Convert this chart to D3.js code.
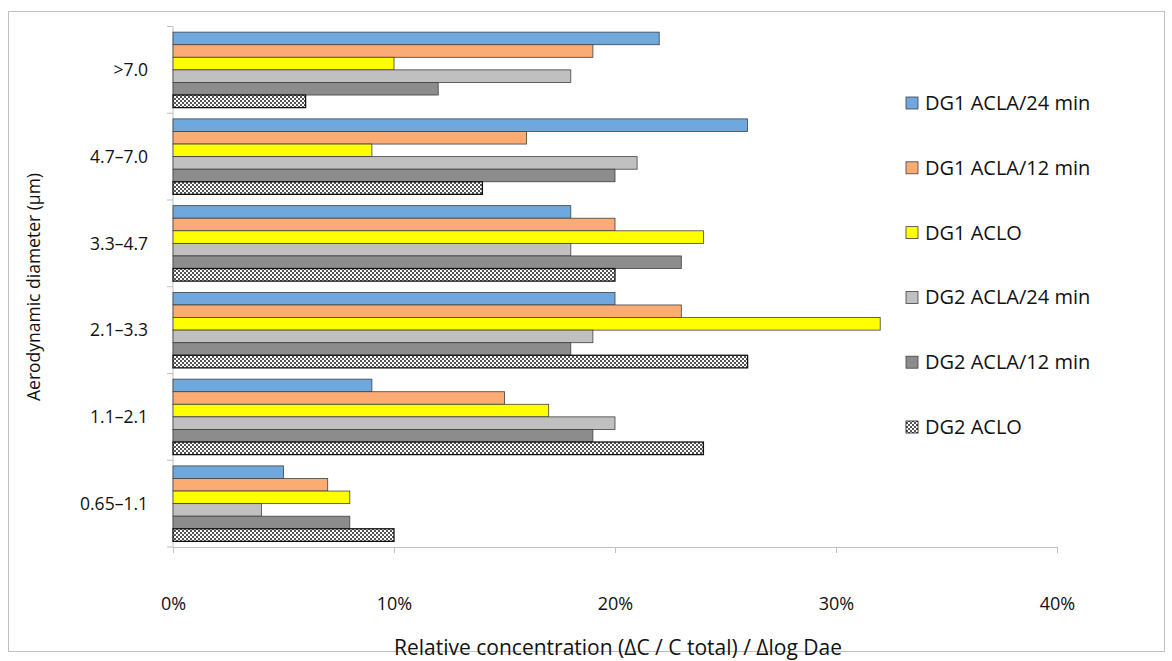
<!DOCTYPE html>
<html><head><meta charset="utf-8">
<script src="https://cdn.jsdelivr.net/npm/d3@7"></script>
<style>body{margin:0;background:#fff}svg{display:block}text{font-family:"Open Sans",Lato,sans-serif;fill:#111}</style>
</head><body>
<script>
const categories = [">7.0","4.7–7.0","3.3–4.7","2.1–3.3","1.1–2.1","0.65–1.1"];
const seriesNames = ["DG1 ACLA/24 min","DG1 ACLA/12 min","DG1 ACLO","DG2 ACLA/24 min","DG2 ACLA/12 min","DG2 ACLO"];
const s1 = [22,26,18,20,9,5];
const s2 = [19,16,20,23,15,7];
const s3 = [10,9,24,32,17,8];
const s4 = [18,21,18,19,20,4];
const s5 = [12,20,23,18,19,8];
const s6 = [6,14,20,26,24,10];
const seriesValues = [s1,s2,s3,s4,s5,s6];
const xTicks = [0,10,20,30,40];
const fills = ["#6fa8dc","#fbab74","#ffff00","#c0c0c0","#8c8c8c","url(#checker)"];

(function(){
const W=1172,H=661;
const svg=d3.select("body").append("svg").attr("width",W).attr("height",H);
const defs=svg.append("defs");
const pat=defs.append("pattern").attr("id","checker").attr("width",4).attr("height",4).attr("patternUnits","userSpaceOnUse");
pat.append("rect").attr("width",4).attr("height",4).attr("fill","#fff");
pat.append("rect").attr("width",2).attr("height",2).attr("fill","#555");
pat.append("rect").attr("x",2).attr("y",2).attr("width",2).attr("height",2).attr("fill","#555");

svg.append("rect").attr("x",8.5).attr("y",11.5).attr("width",1156).attr("height",640).attr("fill","#fff").attr("stroke","#bfbfbf");

const pL=173,pR=1057,pT=26.5,pB=547;
const x=d3.scaleLinear().domain([0,40]).range([pL,pR]);
const y0=d3.scaleBand().domain(categories).range([pT,pB]).paddingInner(0.13).paddingOuter(0.065);
const y1=d3.scaleBand().domain(d3.range(6)).range([0,y0.bandwidth()]);

const xAxis=svg.append("g").attr("transform",`translate(0,${pB})`)
  .call(d3.axisBottom(x).tickValues(xTicks).tickFormat(d=>d+"%").tickSize(6).tickPadding(44));
xAxis.select(".domain").attr("stroke","#bfbfbf");
xAxis.selectAll(".tick line").attr("stroke","#bfbfbf");
xAxis.selectAll("text").style("font-size","18px").attr("fill","#111");

const yb=d3.scaleLinear().domain([0,6]).range([pT,pB]);
const yAxisG=svg.append("g");
yAxisG.append("line").attr("x1",pL).attr("x2",pL).attr("y1",pT).attr("y2",pB).attr("stroke","#bfbfbf");
yAxisG.selectAll("line.t").data(d3.range(7)).join("line").attr("class","t")
  .attr("x1",pL-6).attr("x2",pL).attr("y1",d=>yb(d)).attr("y2",d=>yb(d)).attr("stroke","#bfbfbf");
yAxisG.selectAll("text").data(categories).join("text")
  .attr("x",148).attr("y",d=>y0(d)+y0.bandwidth()/2).attr("dy","0.35em").attr("text-anchor","end")
  .style("font-size","17.5px").text(d=>d);

categories.forEach((c,ci)=>{
  seriesValues.forEach((vals,si)=>{
    svg.append("rect")
      .attr("x",x(0)).attr("y",y0(c)+y1(si)).attr("width",x(vals[ci])-x(0)).attr("height",y1.bandwidth())
      .attr("fill",fills[si]).attr("stroke",si===5?"#111":"#404040").attr("stroke-width",si===5?1.3:0.8);
  });
});

const lg=svg.append("g");
seriesNames.forEach((n,i)=>{
  const ly=103+i*64.8;
  lg.append("rect").attr("x",906).attr("y",ly-6).attr("width",12).attr("height",12)
    .attr("fill",fills[i]).attr("stroke",i===5?"#111":"#404040").attr("stroke-width",0.8);
  lg.append("text").attr("x",925).attr("y",ly).attr("dy","0.35em").style("font-size","20px").text(n);
});

svg.append("text").attr("x",618).attr("y",655).attr("text-anchor","middle").style("font-size","21px")
  .text("Relative concentration (ΔC / C total) / Δlog Dae");
svg.append("text").attr("transform","translate(40,287) rotate(-90)").attr("text-anchor","middle").style("font-size","17.5px")
  .text("Aerodynamic diameter (µm)");
})();
</script>
</body></html>
